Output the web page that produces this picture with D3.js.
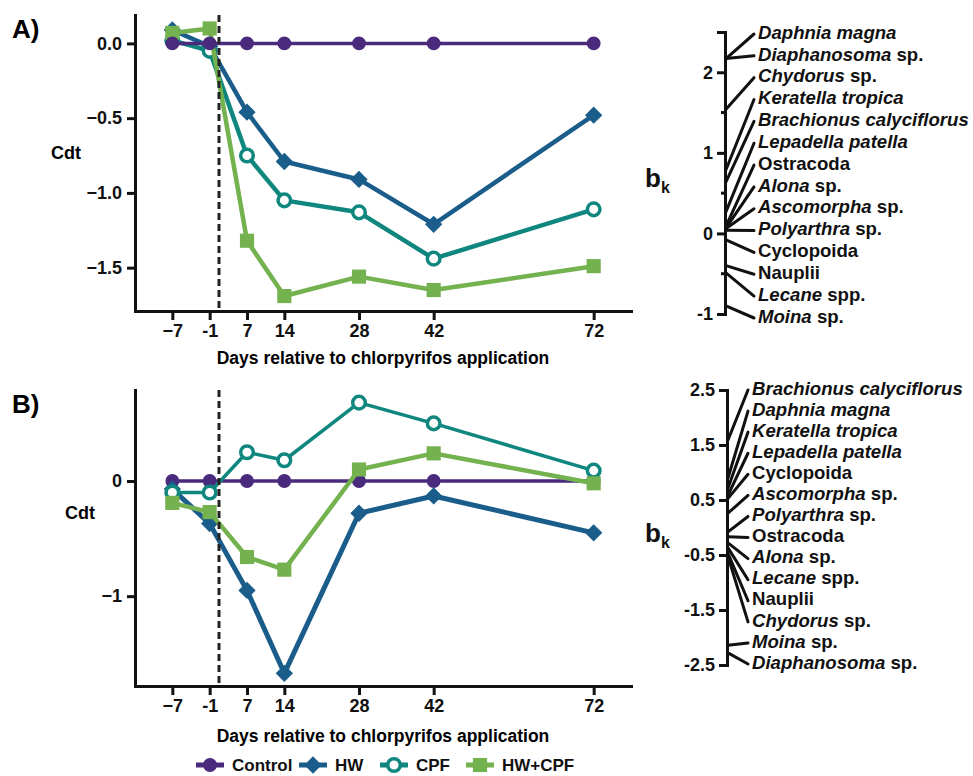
<!DOCTYPE html>
<html>
<head>
<meta charset="utf-8">
<script src="https://cdn.jsdelivr.net/npm/d3@7"></script>
<style>
  body { margin: 0; background: #fff; }
  svg { display: block; font-family: "Liberation Sans", Arial, sans-serif; font-weight: bold; }
</style>
</head>
<body>
<script>
// days on the plotted axis (the "-1" sampling is drawn at day 0) and their labels
var days = [-7, 0, 7, 14, 28, 42, 72];
var dayLabels = ["\u22127", "-1", "7", "14", "28", "42", "72"];
var applicationDay = 1.75;

var groups = ["Control", "HW", "CPF", "HW+CPF"];
var colors = {"Control": "#4a2a7c", "HW": "#1a5d8b", "CPF": "#0f877f", "HW+CPF": "#74b14f"};

// panel A, Cdt
var cdtA = {
  "Control": [0, 0, 0, 0, 0, 0, 0],
  "HW":      [0.09, -0.02, -0.46, -0.79, -0.91, -1.21, -0.48],
  "CPF":     [0.02, -0.05, -0.75, -1.05, -1.13, -1.44, -1.11],
  "HW+CPF":  [0.07, 0.10, -1.32, -1.69, -1.56, -1.65, -1.49]
};
// panel B, Cdt
var cdtB = {
  "Control": [0, 0, 0, 0, 0, 0, 0],
  "HW":      [-0.07, -0.37, -0.95, -1.67, -0.28, -0.13, -0.45],
  "CPF":     [-0.10, -0.10, 0.25, 0.18, 0.68, 0.50, 0.09],
  "HW+CPF":  [-0.19, -0.27, -0.66, -0.77, 0.10, 0.24, -0.02]
};

var speciesA = ["Daphnia magna", "Diaphanosoma sp.", "Chydorus sp.", "Keratella tropica",
  "Brachionus calyciflorus", "Lepadella patella", "Ostracoda", "Alona sp.", "Ascomorpha sp.",
  "Polyarthra sp.", "Cyclopoida", "Nauplii", "Lecane spp.", "Moina sp."];
var bkA = [2.17, 2.17, 1.54, 0.79, 0.64, 0.27, 0.09, 0.07, 0.06, 0.04, -0.08, -0.40, -0.49, -0.90];

var speciesB = ["Brachionus calyciflorus", "Daphnia magna", "Keratella tropica", "Lepadella patella",
  "Cyclopoida", "Ascomorpha sp.", "Polyarthra sp.", "Ostracoda", "Alona sp.", "Lecane spp.",
  "Nauplii", "Chydorus sp.", "Moina sp.", "Diaphanosoma sp."];
var bkB = [1.59, 0.90, 0.72, 0.59, 0.53, 0.26, -0.08, -0.17, -0.28, -0.37, -0.47, -0.53, -2.14, -2.28];

var svg = d3.select("body").append("svg")
    .attr("width", 973)
    .attr("height", 776);

function styleAxis(g) {
  g.select(".domain").attr("stroke", "#111").attr("stroke-width", 3).attr("stroke-linecap", "square");
  g.selectAll(".tick line").attr("stroke", "#111").attr("stroke-width", 3);
  g.selectAll(".tick text").attr("fill", "#111").style("font-weight", "bold");
}

var symbolFor = {
  "Control": {type: d3.symbolCircle, size: 150, rotate: 0},
  "HW": {type: d3.symbolSquare, size: 150, rotate: 45},
  "CPF": {type: d3.symbolCircle, size: 125, rotate: 0},
  "HW+CPF": {type: d3.symbolSquare, size: 200, rotate: 0}
};

function drawMarker(g, name, x, y) {
  var s = symbolFor[name];
  var p = g.append("path")
    .attr("d", d3.symbol().type(s.type).size(s.size)())
    .attr("transform", "translate(" + x + "," + y + ") rotate(" + s.rotate + ")");
  if (name == "CPF") p.attr("fill", "#fff").attr("stroke", colors[name]).attr("stroke-width", 3.5);
  else p.attr("fill", colors[name]);
}

function drawPanel(cfg) {
  var x = d3.scaleLinear().domain([-14, 79]).range([135, 631]);
  var y = d3.scaleLinear().domain(cfg.yDomain).range([cfg.bottom, cfg.top]);
  var g = svg.append("g");

  var line = d3.line()
    .x(function(d, i) { return x(days[i]); })
    .y(function(d) { return y(d); });

  cfg.order.forEach(function(name) {
    g.append("path")
      .attr("d", line(cfg.data[name]))
      .attr("fill", "none")
      .attr("stroke", colors[name])
      .attr("stroke-width", name == "Control" ? 3.5 : cfg.width[name])
      .attr("stroke-linejoin", "round");
    cfg.data[name].forEach(function(v, i) { drawMarker(g, name, x(days[i]), y(v)); });
  });

  g.append("line")
    .attr("x1", x(applicationDay)).attr("x2", x(applicationDay))
    .attr("y1", cfg.top).attr("y2", cfg.bottom)
    .attr("stroke", "#222").attr("stroke-width", 3)
    .attr("stroke-dasharray", "7,4");

  var ya = svg.append("g")
    .attr("transform", "translate(135,0)")
    .call(d3.axisLeft(y).tickValues(cfg.yTicks).tickFormat(cfg.yFormat).tickSize(8).tickSizeOuter(0).tickPadding(5));
  ya.selectAll(".tick text").style("font-size", "18px");
  styleAxis(ya);

  var xa = svg.append("g")
    .attr("transform", "translate(0," + cfg.bottom + ")")
    .call(d3.axisBottom(x).tickValues(days).tickFormat(function(d, i) { return dayLabels[i]; }).tickSize(9).tickSizeOuter(0).tickPadding(4));
  xa.selectAll(".tick text").style("font-size", "18px");
  styleAxis(xa);

  svg.append("text")
    .attr("x", 383).attr("y", cfg.bottom + cfg.titleGap)
    .attr("text-anchor", "middle")
    .style("font-size", "17.5px")
    .text("Days relative to chlorpyrifos application");

  svg.append("text")
    .attr("x", cfg.cdtX).attr("y", cfg.cdtY)
    .attr("text-anchor", "middle").attr("dy", "0.35em")
    .style("font-size", "18px")
    .text("Cdt");

  svg.append("text")
    .attr("x", 12).attr("y", cfg.top + 23)
    .style("font-size", "26px")
    .text(cfg.letter);
}

function speciesText(sel, name) {
  var m = name.match(/^(\S+)( spp?\.)$/);
  if (m) {
    sel.append("tspan").style("font-style", "italic").text(m[1]);
    sel.append("tspan").text(m[2]);
  } else if (name.indexOf(" ") > 0) {
    sel.append("tspan").style("font-style", "italic").text(name);
  } else {
    sel.append("tspan").text(name);
  }
}

function drawBk(cfg) {
  var y = d3.scaleLinear().domain(cfg.domain).range([cfg.bottom, cfg.top]);
  var ax = svg.append("g")
    .attr("transform", "translate(" + cfg.axisX + ",0)")
    .call(d3.axisLeft(y).tickValues(cfg.ticks).tickFormat(cfg.format).tickSize(8).tickSizeOuter(0).tickPadding(4));
  ax.selectAll(".tick text").style("font-size", "18px");
  styleAxis(ax);
  if (cfg.minor) {
    svg.append("g").selectAll("line").data(cfg.minor).enter().append("line")
      .attr("x1", cfg.axisX - 4).attr("x2", cfg.axisX)
      .attr("y1", function(d) { return y(d); }).attr("y2", function(d) { return y(d); })
      .attr("stroke", "#111").attr("stroke-width", 3);
  }

  var ly = d3.scalePoint().domain(cfg.species).range([cfg.labelTop, cfg.labelBottom]);
  var g = svg.append("g");
  cfg.species.forEach(function(name, i) {
    g.append("line")
      .attr("x1", cfg.axisX + 1).attr("y1", y(cfg.bk[i]))
      .attr("x2", cfg.labelX - 4).attr("y2", ly(name) + 2)
      .attr("stroke", "#111").attr("stroke-width", 3)
      .attr("stroke-linecap", "round");
    var t = g.append("text")
      .attr("x", cfg.labelX).attr("y", ly(name))
      .attr("dy", "0.36em")
      .style("font-size", "18.6px")
      .attr("fill", "#111");
    speciesText(t, name);
  });

  var b = svg.append("text")
    .attr("x", 645).attr("y", (cfg.top + cfg.bottom) / 2 + 14)
    .style("font-size", "26px").attr("fill", "#111");
  b.append("tspan").text("b");
  b.append("tspan").attr("dy", 6).style("font-size", "16px").text("k");
}

drawPanel({
  letter: "A)", top: 15, bottom: 311, yDomain: [-1.79, 0.19],
  yTicks: [0, -0.5, -1, -1.5], yFormat: d3.format(".1f"),
  data: cdtA, order: ["HW", "CPF", "HW+CPF", "Control"],
  width: {"HW": 4.5, "CPF": 4.5, "HW+CPF": 4.5},
  cdtX: 66, cdtY: 153, titleGap: 53
});
drawPanel({
  letter: "B)", top: 390, bottom: 686, yDomain: [-1.78, 0.79],
  yTicks: [0, -1], yFormat: d3.format("d"),
  data: cdtB, order: ["Control", "HW", "CPF", "HW+CPF"],
  width: {"HW": 5, "CPF": 3.5, "HW+CPF": 4.5},
  cdtX: 80, cdtY: 513, titleGap: 56
});

drawBk({
  axisX: 725, top: 32, bottom: 314, domain: [-1, 2.5],
  ticks: [-1, 0, 1, 2, 2.5], format: function(d) { return d == 2.5 ? "" : d3.format("d")(d).replace("\u2212", "-"); },
  minor: [-0.5, 0.5, 1.5],
  species: speciesA, bk: bkA, labelX: 758, labelTop: 32, labelBottom: 316
});
drawBk({
  axisX: 727, top: 390, bottom: 665, domain: [-2.5, 2.5],
  ticks: [-2.5, -1.5, -0.5, 0.5, 1.5, 2.5], format: function(d) { return d3.format(".1f")(d).replace("\u2212", "-"); },
  minor: null,
  species: speciesB, bk: bkB, labelX: 752, labelTop: 388, labelBottom: 662
});

// legend
var legendX = [210, 313, 394, 480];
var lg = svg.append("g");
groups.forEach(function(name, i) {
  var cx = legendX[i], cy = 765;
  lg.append("line")
    .attr("x1", cx - 14).attr("x2", cx + 14).attr("y1", cy).attr("y2", cy)
    .attr("stroke", colors[name]).attr("stroke-width", 5);
  drawMarker(lg, name, cx, cy);
  lg.append("text")
    .attr("x", cx + 22).attr("y", cy).attr("dy", "0.36em")
    .style("font-size", "17px").attr("fill", "#111")
    .text(name);
});
</script>
</body>
</html>
